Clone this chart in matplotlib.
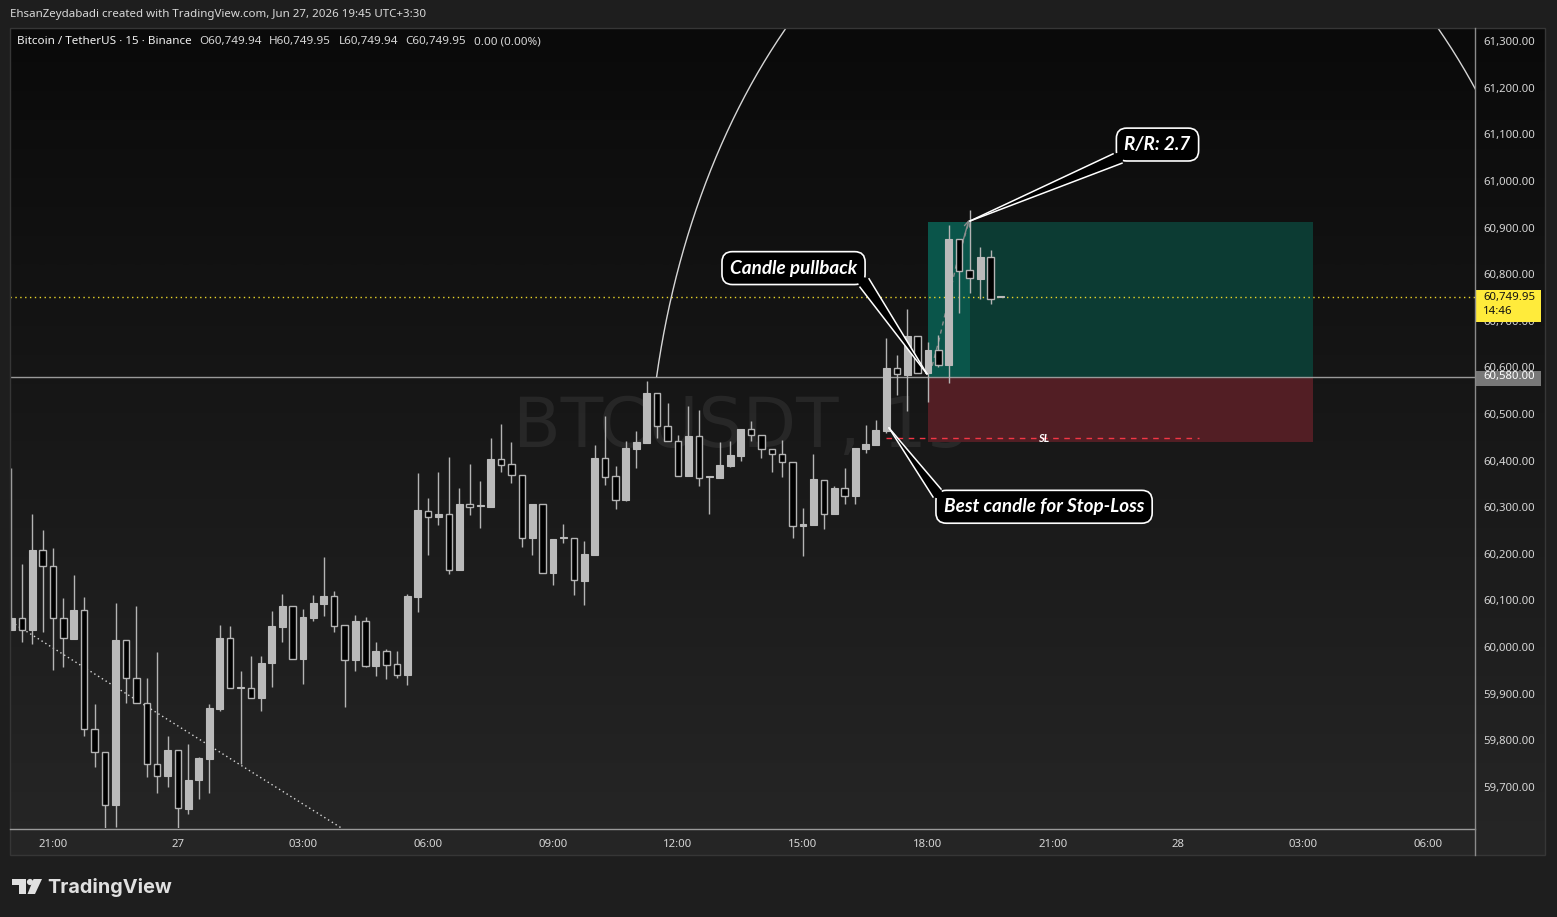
import numpy as np
import pandas as pd
import matplotlib
matplotlib.use("Agg")
import matplotlib.pyplot as plt
from matplotlib.patches import Rectangle, Polygon, Circle
from matplotlib.colors import LinearSegmentedColormap
import matplotlib.transforms as mtransforms

plt.rcParams['font.family'] = ['Noto Sans', 'DejaVu Sans']

W, H, DPI = 1557, 917, 100

# ---------------- data ----------------
start_time = "2026-06-26 20:00"   # first 15-minute candle

opens = [60037, 60062, 60037, 60208, 60173, 60062, 60018, 60079, 59824, 59775,
         59662, 60015, 59933, 59880, 59749, 59724, 59780, 59653, 59714, 59761,
         59867, 60019, 59913, 59912, 59890, 59965, 60044, 60088, 59975, 60063,
         60093, 60110, 60048, 59973, 60055, 59960, 59991, 59963, 59941, 60108,
         60293, 60280, 60285, 60166, 60306, 60302, 60301, 60403, 60392, 60370,
         60234, 60306, 60159, 60233, 60233, 60142, 60198, 60405, 60366, 60315,
         60425, 60438, 60545, 60475, 60443, 60367, 60452, 60364, 60363, 60388,
         60410, 60467, 60454, 60424, 60415, 60398, 60259, 60262, 60359, 60286,
         60342, 60324, 60425, 60433, 60464, 60598, 60584, 60667, 60587, 60637,
         60605, 60875, 60808, 60790, 60836, 60749.94]
highs = [60384, 60178, 60286, 60251, 60213, 60106, 60155, 60108, 59878, 59775,
         60095, 60015, 60088, 59934, 59990, 59810, 59780, 59792, 59764, 59878,
         60048, 60045, 59949, 59981, 59981, 60078, 60114, 60088, 60082, 60112,
         60193, 60121, 60048, 60069, 60064, 60011, 59995, 59992, 60115, 60373,
         60320, 60376, 60408, 60341, 60393, 60356, 60448, 60479, 60440, 60370,
         60306, 60306, 60231, 60264, 60233, 60227, 60433, 60495, 60388, 60442,
         60463, 60570, 60545, 60523, 60456, 60517, 60508, 60365, 60440, 60442,
         60467, 60485, 60454, 60424, 60444, 60398, 60298, 60414, 60359, 60345,
         60384, 60427, 60476, 60487, 60663, 60627, 60725, 60667, 60654, 60669,
         60905, 60875, 60938, 60858, 60852, 60749.95]
lows = [60037, 60012, 60007, 60033, 59950, 59958, 60018, 59810, 59742, 59600,
        59615, 59881, 59880, 59722, 59687, 59699, 59600, 59641, 59675, 59688,
        59862, 59913, 59749, 59890, 59862, 59915, 60012, 59975, 59920, 60057,
        60066, 60033, 59872, 59949, 59958, 59937, 59932, 59934, 59919, 60076,
        60198, 60262, 60157, 60166, 60283, 60256, 60301, 60376, 60353, 60215,
        60198, 60160, 60133, 60224, 60112, 60091, 60198, 60347, 60296, 60314,
        60385, 60438, 60449, 60442, 60367, 60367, 60346, 60286, 60363, 60387,
        60400, 60443, 60406, 60376, 60365, 60234, 60196, 60262, 60254, 60286,
        60307, 60307, 60416, 60433, 60459, 60541, 60507, 60587, 60525, 60601,
        60567, 60716, 60759, 60747, 60737, 60749.94]
closes = [60062, 60037, 60208, 60173, 60062, 60019, 60079, 59824, 59774, 59662,
          60015, 59933, 59880, 59749, 59724, 59780, 59654, 59715, 59762, 59870,
          60020, 59913, 59913, 59890, 59966, 60046, 60088, 59975, 60065, 60095,
          60110, 60046, 59973, 60056, 59960, 59992, 59962, 59941, 60110, 60294,
          60280, 60285, 60166, 60307, 60301, 60302, 60403, 60391, 60370, 60235,
          60306, 60160, 60231, 60233, 60143, 60199, 60405, 60365, 60316, 60427,
          60440, 60545, 60475, 60442, 60367, 60452, 60362, 60364, 60390, 60412,
          60467, 60454, 60424, 60415, 60397, 60259, 60264, 60360, 60286, 60342,
          60324, 60427, 60435, 60466, 60599, 60585, 60667, 60587, 60637, 60605,
          60875, 60807, 60791, 60836, 60747, 60749.95]

last_price = 60749.95
last_countdown = "14:46"
level_price = 60580.0

price_ticks = list(range(59700, 61301, 100))
time_tick_times = ["2026-06-26 21:00", "2026-06-27 00:00", "2026-06-27 03:00",
                   "2026-06-27 06:00", "2026-06-27 09:00", "2026-06-27 12:00",
                   "2026-06-27 15:00", "2026-06-27 18:00", "2026-06-27 21:00",
                   "2026-06-28 00:00", "2026-06-28 03:00", "2026-06-28 06:00"]
time_tick_labels = ["21:00", "27", "03:00", "06:00", "09:00", "12:00",
                    "15:00", "18:00", "21:00", "28", "03:00", "06:00"]

legend_segments = [("Bitcoin / TetherUS · 15 · Binance", '#f2f2f2'),
                   ("O60,749.94", '#d6d6d6'), ("H60,749.95", '#d6d6d6'),
                   ("L60,749.94", '#d6d6d6'), ("C60,749.95", '#d6d6d6'),
                   ("0.00 (0.00%)", '#d6d6d6')]

# long position tool
pos_start, pos_end, pos_reached = "2026-06-27 18:00", "2026-06-28 03:15", "2026-06-27 19:00"
entry_price, target_price, stop_price = 60580.0, 60912.0, 60441.0
sl_line_price = 60448.0
sl_start, sl_end = "2026-06-27 17:00", "2026-06-28 00:30"
path_idx = [88.19, 89.06, 89.73, 90.78, 91.84]
path_price = [60586, 60659, 60723, 60826, 60905]

# trend line (dotted)
trend_times = ["2026-06-26 20:00", "2026-06-27 06:00"]
trend_prices = [60054, 59496]

# arc drawing (ellipse parameters: center index, center price, semi-axes)
arc_cx, arc_cy, arc_a, arc_b = 105.66, 60283.0, 44.64, 1465.0

# callouts: text, text centre, tip, base1, inner, base2  (candle index, price)
callouts = [
    ("Candle pullback", (75.09, 60813), (87.9, 60586), (81.47, 60772), (80.9, 60800), (82.34, 60790)),
    ("R/R: 2.7", (110.03, 61078), (92.03, 60914), (105.76, 61058), (107.0, 61064), (106.62, 61038)),
    ("Best candle for Stop-Loss", (99.14, 60301), (84.26, 60470), (88.48, 60322), (89.6, 60314), (89.25, 60339)),
]

# ---------------- helpers ----------------
t0 = pd.Timestamp(start_time)
def tidx(t):
    return (pd.Timestamp(t) - t0) / pd.Timedelta(minutes=15)

O = np.array(opens, float); Hh = np.array(highs, float)
L = np.array(lows, float); C = np.array(closes, float)
n = len(O)
x = np.arange(n)

fig = plt.figure(figsize=(W / DPI, H / DPI), dpi=DPI)
fig.patch.set_facecolor('#1e1e1e')

# background gradient pane
bg = fig.add_axes([0, 0, 1, 1], zorder=0)
bg.axis('off')
cmap = LinearSegmentedColormap.from_list('g', ['#0a0a0a', '#262626'])
grad = np.linspace(0, 1, 256)[:, None]
bg.imshow(grad, extent=(10, 1545, 855, 28), cmap=cmap, aspect='auto', interpolation='bilinear')
bg.set_xlim(0, W); bg.set_ylim(H, 0)

# main axes
ax = fig.add_axes([10 / W, (H - 828) / H, 1465 / W, 800 / H], zorder=1)
ax.patch.set_alpha(0)
ax.set_xlim(-0.128, 140.51)
ax.set_ylim(59612, 61328)
for s in ax.spines.values():
    s.set_visible(False)

# watermark
ax.text(70.14, 60472, "BTCUSDT, 15", ha='center', va='center', fontsize=50,
        color=(1, 1, 1, 0.07), family='DejaVu Sans', zorder=0.5)

# position tool
ps, pe, pr = tidx(pos_start), tidx(pos_end), tidx(pos_reached)
ax.add_patch(Rectangle((ps, entry_price), pe - ps, target_price - entry_price,
                       fc='#0c3b33', ec='none', zorder=1))
ax.add_patch(Rectangle((ps, entry_price), pr - ps, target_price - entry_price,
                       fc='#0a554a', ec='none', zorder=1.1))
ax.add_patch(Rectangle((ps, stop_price), pe - ps, entry_price - stop_price,
                       fc='#521e24', ec='none', zorder=1))
ax.plot([tidx(sl_start), tidx(sl_end)], [sl_line_price, sl_line_price],
        color='#f23645', lw=1, ls=(0, (4, 4)), zorder=1.5)
ax.text((tidx(sl_start) + tidx(sl_end)) / 2 + 0.1, sl_line_price, "SL", ha='center', va='center',
        fontsize=8, color='white', fontweight='bold', fontstyle='italic', family='Lato', zorder=1.6)
ax.plot(path_idx, path_price, color='#8c8c8c', lw=1, ls=(0, (3, 3)), zorder=1.7)
ax.annotate('', xy=(path_idx[-1] + 0.1, path_price[-1] + 12), xytext=(path_idx[-2], path_price[-2]),
            arrowprops=dict(arrowstyle='->', color='#8c8c8c', lw=1, shrinkA=0, shrinkB=0), zorder=1.7)

# horizontal level + current price
ax.axhline(level_price, color='#9a9a9a', lw=1, zorder=2)
ax.axhline(last_price, color='#e9d62a', lw=1, ls=(0, (1, 2.5)), zorder=2)

# trend line
ax.plot([tidx(t) for t in trend_times], trend_prices, color='#d8d8d8', lw=1,
        ls=(0, (1, 2.2)), zorder=2)

# arc drawing
tt = np.linspace(2.937, 0.05, 400)
ax.plot(arc_cx + arc_a * np.cos(tt), arc_cy + arc_b * np.sin(tt), color='#d6d6d6', lw=1, zorder=2)

# candles
up = C >= O
wick_col = '#b4b4b4'
body_col = '#bababa'
bottom = np.minimum(O, C)
height = np.maximum(np.abs(C - O), 2.2)
ax.vlines(x, L, Hh, color=wick_col, lw=1, zorder=3)
ax.bar(x[up], height[up], bottom=bottom[up], width=0.66, color=body_col,
       edgecolor=body_col, lw=0.8, zorder=4)
ax.bar(x[~up], height[~up], bottom=bottom[~up], width=0.62, color='black',
       edgecolor=wick_col, lw=1.0, zorder=4)

# callouts
for txt, c, tip, b1, inner, b2 in callouts:
    ax.text(c[0], c[1], txt, ha='center', va='center', color='white', fontsize=13.6,
            fontweight='bold', fontstyle='italic', family='Lato', zorder=20,
            bbox=dict(boxstyle='round,pad=0.42,rounding_size=0.55', fc='black', ec='white', lw=1.2))
    ax.add_patch(Polygon([tip, b1, inner, b2], closed=True, fc='black', ec='none', zorder=21))
    ax.plot([b1[0], tip[0]], [b1[1], tip[1]], color='white', lw=1.1, zorder=22)
    ax.plot([b2[0], tip[0]], [b2[1], tip[1]], color='white', lw=1.1, zorder=22)

# axes ticks
ax.yaxis.tick_right()
ax.set_yticks(price_ticks)
ax.set_yticklabels([f"{v:,.2f}" for v in price_ticks])
ax.set_xticks([tidx(t) for t in time_tick_times])
ax.set_xticklabels(time_tick_labels)
ax.tick_params(axis='y', length=0, pad=6.0, labelsize=8.2, labelcolor='#d6d6d6')
ax.tick_params(axis='x', length=0, pad=8.2, labelsize=8.2, labelcolor='#d6d6d6')

# price labels on the axis
blend = mtransforms.blended_transform_factory(ax.transAxes, ax.transData)
ax.add_patch(Rectangle((1.0007, last_price - 53), 0.0444, 69, transform=blend,
                       fc='#ffeb3b', ec='none', clip_on=False, zorder=30))
ax.text(1.0055, last_price, f"{last_price:,.2f}", transform=blend, ha='left', va='center',
        fontsize=8.2, color='#111111', clip_on=False, zorder=31)
ax.text(1.0055, last_price - 31, last_countdown, transform=blend, ha='left', va='center',
        fontsize=8.2, color='#111111', clip_on=False, zorder=31)
ax.add_patch(Rectangle((1.0007, level_price - 20), 0.0444, 32, transform=blend,
                       fc='#787878', ec='none', clip_on=False, zorder=30))
ax.text(1.0055, level_price, f"{level_price:,.2f}", transform=blend, ha='left', va='center',
        fontsize=8.2, color='white', clip_on=False, zorder=31)

# overlay for frame, header and logo
ov = fig.add_axes([0, 0, 1, 1], zorder=2)
ov.patch.set_alpha(0)
ov.set_xlim(0, W); ov.set_ylim(H, 0); ov.axis('off')
ov.add_patch(Rectangle((10, 28), 1535, 827, fc='none', ec='#363636', lw=1))
ov.plot([10, 1475], [828.5, 828.5], color='#9a9a9a', lw=1)
ov.plot([1475.5, 1475.5], [28, 855], color='#8a8a8a', lw=1)

ov.text(10, 14.5, "EhsanZeydabadi created with TradingView.com, Jun 27, 2026 19:45 UTC+3:30",
        ha='left', va='center', fontsize=8.3, color='#d9d9d9')

# legend line, segments placed one after another
renderer = fig.canvas.get_renderer()
xp = 17.0
for k, (s, col) in enumerate(legend_segments):
    t = ov.text(xp, 41.5, s, ha='left', va='center', fontsize=8.4, color=col,
                fontweight='semibold' if k == 0 else 'normal')
    wpx = t.get_window_extent(renderer).width
    xp += wpx + 7.5

# TradingView logo
logo_col = '#e0e0e0'
ov.add_patch(Rectangle((12, 879), 14, 6, fc=logo_col, ec='none'))
ov.add_patch(Rectangle((19, 879), 7, 15, fc=logo_col, ec='none'))
ov.add_patch(Circle((30, 882), 3.1, fc=logo_col, ec='none'))
ov.add_patch(Polygon([(33.5, 879), (42, 879), (35, 894), (27.5, 894)], fc=logo_col, ec='none'))
ov.text(47, 887.5, "TradingView", ha='left', va='center', fontsize=14.3,
        color=logo_col, fontweight='bold', family='Inter')

fig.savefig("out.png", dpi=DPI, facecolor=fig.get_facecolor())
